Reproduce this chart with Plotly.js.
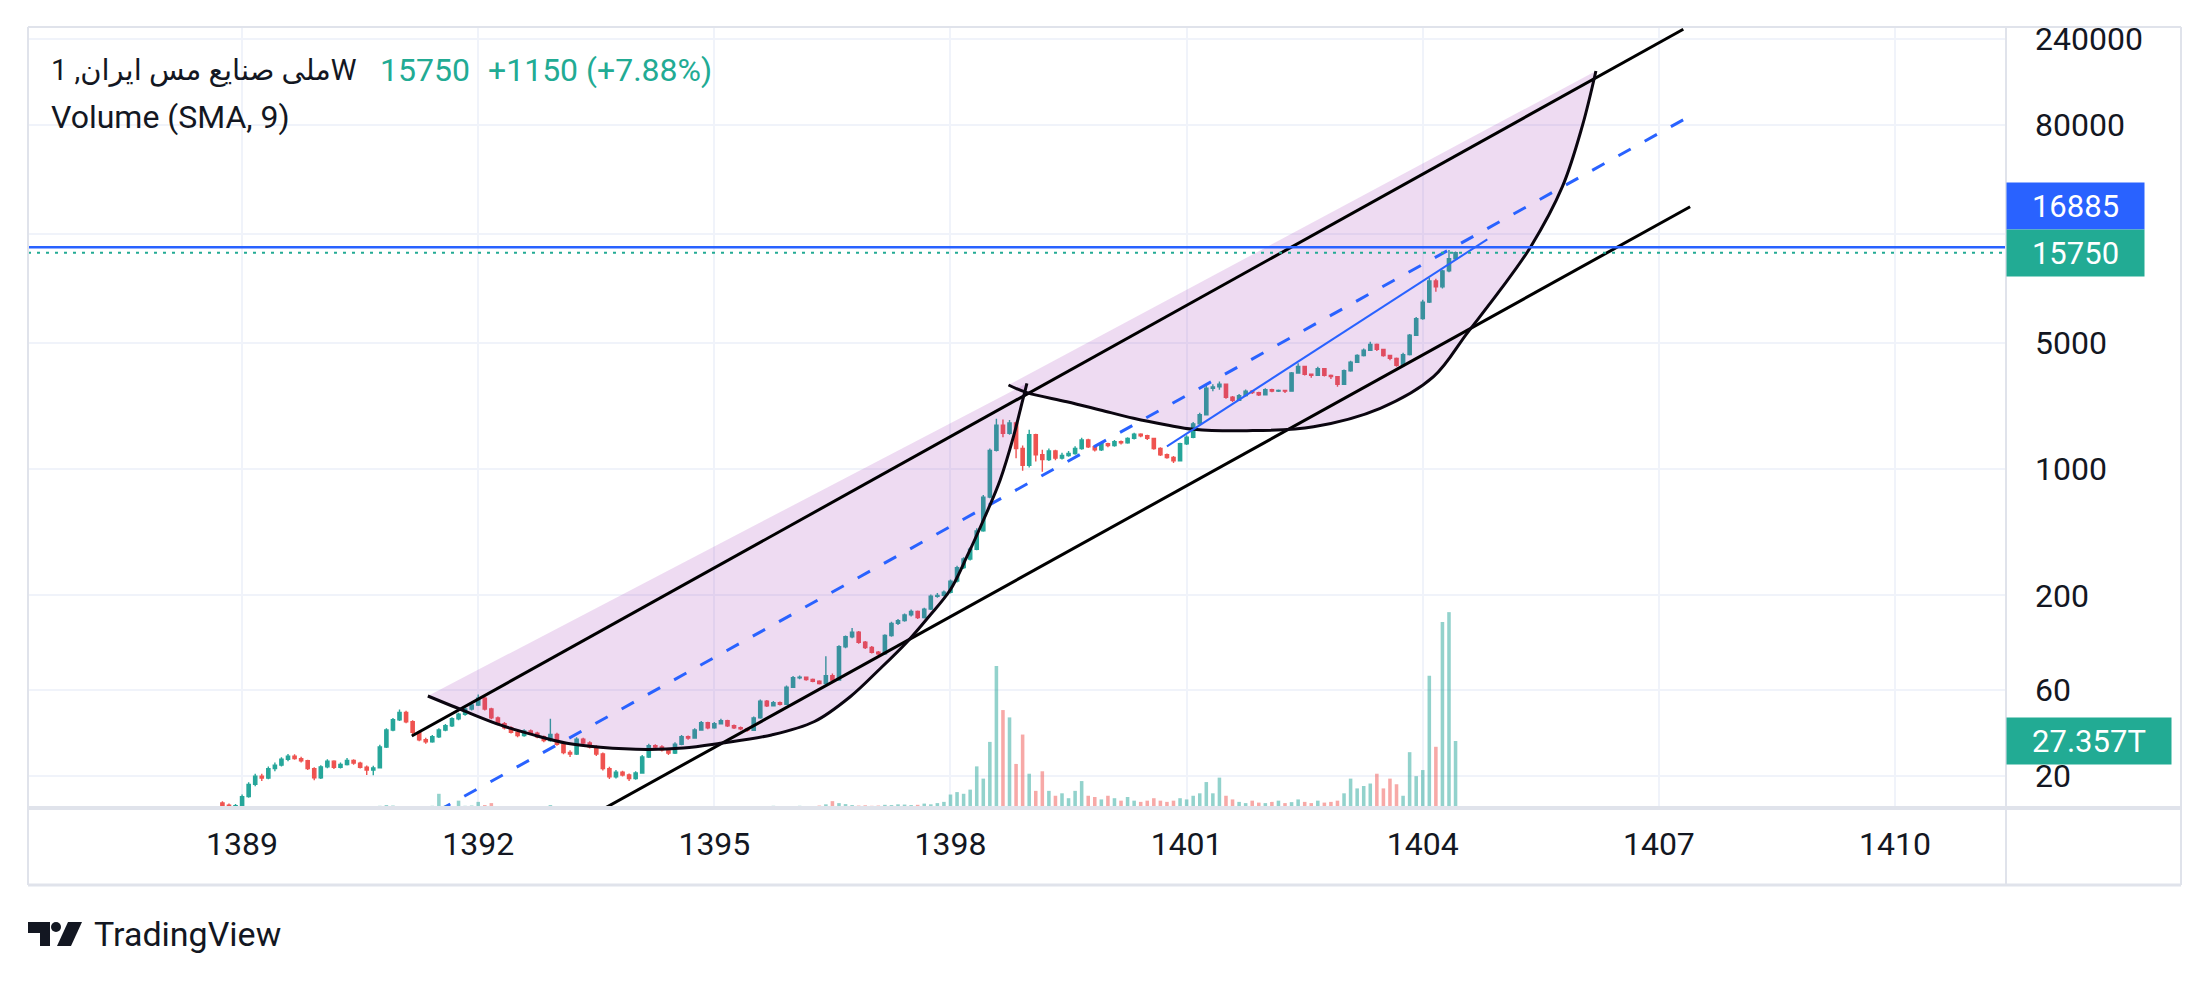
<!DOCTYPE html>
<html>
<head>
<meta charset="utf-8">
<script src="https://cdn.plot.ly/plotly-3.0.1.min.js"></script>
<style>
html,body{margin:0;padding:0;background:#ffffff;}
#chart{width:2209px;height:982px;}
</style>
</head>
<body>
<div id="chart"></div>
<script>
// ---------------- DATA ----------------
const symbolName = "ملی صنایع مس ایران";
const intervalLabel = "1W";
const volumeLabel = "Volume (SMA, 9)";
const brandLabel = "TradingView";

const tickYears = [1389, 1392, 1395, 1398, 1401, 1404, 1407, 1410];
const tickYearLabels = ["1389", "1392", "1395", "1398", "1401", "1404", "1407", "1410"];
const priceTicks = [20, 60, 200, 1000, 5000, 20000, 80000, 240000];
// the 20000 label sits under the price labels in the reference, so it is left blank
const priceTickLabels = ["20", "60", "200", "1000", "5000", "", "80000", "240000"];

const firstBarYear = 1388.75;
const barsPerYear = 12;

const openP = [
14.2,13.8,13.5,13.7,15.4,18.0,20.0,19.5,22.0,23.0,24.8,25.8,
25.0,24.3,22.0,19.6,22.5,24.2,22.4,23.2,24.4,23.6,22.4,21.6,
22.2,29.0,36.0,41.0,45.0,40.0,35.0,31.8,31.0,33.0,36.0,38.0,
41.5,44.0,47.0,49.5,54.0,47.0,42.0,39.0,37.0,35.0,33.5,35.5,
34.5,33.0,31.5,34.0,30.0,27.0,26.5,32.0,30.5,29.0,26.5,22.0,
19.8,21.0,20.3,19.4,20.8,25.5,29.5,29.0,28.0,26.8,30.0,33.0,
32.5,36.0,39.5,37.0,39.0,40.5,38.0,37.0,36.5,35.8,42.0,52.0,
49.0,51.0,50.0,62.0,70.0,70.5,68.5,67.0,65.0,72.0,68.0,104,
118,125,110,103,97,95,120,140,145,156,163,151,
168,198,200,208,240,285,318,360,455,700,1270,1750,
1580,1800,1300,1050,1550,1200,1130,1260,1150,1190,1220,1300,
1450,1330,1280,1380,1350,1420,1400,1480,1560,1530,1480,1300,
1200,1160,1110,1380,1500,1780,2000,2800,2850,2950,2500,2400,
2550,2700,2650,2580,2750,2700,2720,2700,3400,3700,3350,3300,
3600,3300,3250,2950,3500,3900,4250,4550,4900,4600,4250,4100,
3750,4300,5500,6800,8400,11000,10200,12500,14600
];
const highP = [
14.5,14.1,14.0,15.8,18.5,20.6,20.6,22.6,23.8,25.4,26.5,26.4,
25.6,24.6,22.4,23.0,24.8,24.5,23.8,25.2,24.8,24.0,22.9,22.8,
29.8,36.8,42.0,46.8,46.0,40.8,35.6,32.6,33.8,36.8,38.9,42.3,
44.9,47.8,50.4,56.5,55.0,47.8,42.8,39.8,37.8,35.6,36.3,36.2,
35.2,33.6,41.5,34.8,30.6,27.8,32.8,32.6,31.2,29.6,27.0,22.5,
21.6,21.4,20.7,21.3,26.2,30.2,30.0,29.6,28.5,30.8,33.8,33.6,
36.8,40.4,40.0,39.8,41.6,41.0,38.6,37.6,37.0,42.8,53.0,52.8,
52.0,51.8,63.5,71.5,72.0,71.2,69.3,67.8,92.0,74.0,106,120,
132,127,112,105,98.5,122,143,148,159,167,165,171,
202,206,213,245,292,325,370,470,720,1300,1900,1880,
1870,1830,1350,1650,1570,1280,1300,1280,1230,1260,1340,1490,
1470,1360,1410,1400,1450,1440,1500,1590,1580,1550,1490,1320,
1220,1180,1400,1540,1820,2050,2900,2950,3050,2980,2540,2600,
2760,2740,2680,2800,2780,2760,2740,3450,3850,3720,3380,3680,
3620,3340,3280,3560,3980,4320,4650,5070,4950,4640,4300,4150,
4400,5600,6950,8650,11400,11300,12700,16300,16000
];
const lowP = [
13.5,13.3,13.3,13.6,15.2,17.6,18.8,19.2,21.3,22.6,24.2,24.6,
23.8,21.6,19.0,19.3,22.1,21.9,22.0,22.9,23.1,22.0,20.3,20.2,
22.0,28.6,35.4,40.4,39.2,34.2,31.2,30.2,30.6,32.5,35.4,37.4,
40.8,43.2,46.2,48.8,46.2,41.3,38.2,36.2,34.4,32.8,33.0,33.8,
32.4,30.8,31.0,29.4,26.4,25.5,26.2,29.8,28.4,25.8,21.5,19.3,
19.4,19.9,18.8,19.1,20.6,25.2,28.4,27.4,26.2,26.5,29.6,31.8,
32.2,35.6,36.3,36.6,38.6,37.4,36.4,35.9,35.2,35.5,41.6,48.2,
48.5,49.2,49.6,61.4,68.6,67.4,66.2,64.2,64.3,66.5,67.5,102,
116,108,101,95.5,93,94,118,137,143,153,148,149,
166,194,197,205,236,280,312,355,450,690,1250,1500,
1550,1150,980,1020,1100,967,1110,1120,1130,1170,1200,1280,
1310,1250,1260,1320,1330,1370,1380,1460,1500,1450,1280,1180,
1140,1080,1100,1360,1480,1750,1980,2700,2750,2450,2350,2380,
2520,2600,2540,2560,2660,2670,2640,2680,3380,3300,3200,3280,
3250,3150,2860,2920,3460,3860,4200,4500,4500,4180,4000,3690,
3720,4250,5450,6700,8300,9590,10000,12300,14400
];
const closeP = [
13.8,13.5,13.7,15.4,18.0,20.0,19.5,22.0,23.0,24.8,25.8,25.0,
24.3,22.0,19.6,22.5,24.2,22.4,23.2,24.4,23.6,22.4,21.6,22.2,
29.0,36.0,41.0,45.0,40.0,35.0,31.8,31.0,33.0,36.0,38.0,41.5,
44.0,47.0,49.5,54.0,47.0,42.0,39.0,37.0,35.0,33.5,35.5,34.5,
33.0,31.5,34.0,30.0,27.0,26.5,32.0,30.5,29.0,26.5,22.0,19.8,
21.0,20.3,19.4,20.8,25.5,29.5,29.0,28.0,26.8,30.0,33.0,32.5,
36.0,39.5,37.0,39.0,40.5,38.0,37.0,36.5,35.8,42.0,52.0,49.0,
51.0,50.0,62.0,70.0,70.5,68.5,67.0,65.0,72.0,68.0,104,118,
125,110,103,97,95,120,140,145,156,163,151,168,
198,200,208,240,285,318,360,455,700,1270,1750,1580,
1800,1300,1050,1550,1200,1130,1260,1150,1190,1220,1300,1450,
1330,1280,1380,1350,1420,1400,1480,1560,1530,1480,1300,1200,
1160,1110,1380,1500,1780,2000,2800,2850,2950,2500,2400,2550,
2700,2650,2580,2750,2700,2720,2700,3400,3700,3350,3300,3600,
3300,3250,2950,3500,3900,4250,4550,4900,4600,4250,4100,3750,
4300,5500,6800,8400,11000,10200,12500,14600,15750
];
// volume in trillions (T)
const volumeT = [
0.8,0.6,0.9,0.7,0.5,0.6,0.5,0.4,0.6,0.5,0.7,0.5,
0.6,0.4,0.5,0.6,0.5,0.4,0.5,0.6,0.4,0.5,0.6,0.7,
0.9,1.2,1.0,0.8,0.7,0.6,0.8,0.7,0.9,5.8,1.0,0.8,
3.0,0.9,1.0,2.5,1.2,2.0,0.8,0.7,0.6,0.5,0.6,0.5,
0.7,0.6,1.2,0.8,0.5,0.6,0.7,0.5,0.6,0.5,0.4,0.5,
0.6,0.5,0.5,0.4,0.6,0.7,0.6,0.5,0.6,0.5,0.7,0.6,
0.5,0.6,0.8,0.7,0.6,0.5,0.6,0.7,0.6,0.5,0.6,0.7,
0.9,0.8,0.7,0.6,0.9,0.8,0.7,1.0,1.5,2.8,2.0,1.6,
1.2,1.0,1.1,0.9,1.0,1.3,1.2,1.5,1.4,1.2,1.3,1.8,
1.5,2.0,2.5,5.5,6.5,5.8,7.5,17,12,27,58,40,
37,18,30,14,7,15,7,5,6,4,7,11,
5,4.5,3.5,5,4,3,4.5,3,2.5,3,4,3,
2.5,3,4,3.5,5,6,10.6,6,12.4,5,3.5,2.5,
2,3,2.2,2,2.5,3,2,2.4,3.5,2.5,2,3,
2.2,2.5,3,6,12,8,9,10,14,8,12,9.7,
5,22.8,13,15.5,54,25,76,80,27.357
];

// drawings (anchor points: year, price)
const channelUpperX = [1391.156, 1407.31];
const channelUpperY = [33.34, 271600];
const channelMidX = [1391.156, 1407.397];
const channelMidY = [10.67, 89970];
const channelLowerX = [1393.0, 1407.397];
const channelLowerY = [9.48, 28320];
const trendX = [1400.75, 1404.82];
const trendY = [1335, 18690];
const arc1X = [1391.360,1391.855,1392.278,1392.701,1393.126,1393.549,1394.142,1394.607,1395.074,1395.727,1396.272,1396.726,1397.089,1397.451,1397.724,1397.996,1398.208,1398.419,1398.631,1398.800,1398.907,1398.971];
const arc1Y = [55.5,45.3,38.4,33.8,30.4,28.9,28.1,28.6,30.4,33.8,40.1,55.0,77.3,110.9,152.5,214.2,327.5,522.8,870.4,1511,2313,2985];
const arc2X = [1398.737,1398.971,1399.479,1399.902,1400.325,1400.750,1401.088,1401.766,1402.612,1403.460,1404.137,1404.562,1404.985,1405.372,1405.774,1406.025,1406.200];
const arc2Y = [2920,2648,2360,2124,1910,1754,1661,1631,1717,2170,3246,5642,9800,17010,36540,78520,159700];
const hLinePrice = 16885;

// ---------------- STYLE / GEOMETRY ----------------
const FONT = "Roboto, 'DejaVu Sans', sans-serif";
const TXT = '#131722';
const UP = '#26a69a', DOWN = '#ef5350';
const UPV = 'rgba(38,166,154,0.5)', DOWNV = 'rgba(239,83,80,0.5)';
const BLUE = '#2962ff', TEAL = '#22ab94';
const GRID = '#f0f3fa', FRAME = '#e0e3eb';
const xRange = [1386.28, 1411.41];
const yRange = [1.1245, 5.4466];

const L = 28, T = 27, W = 1978, H = 781;
const px = x => (x - L) / W;
const py = y => (T + H - y) / H;
const P = (x, y) => px(x) + ',' + py(y);

const barYear = closeP.map((_, i) => firstBarYear + i / barsPerYear);
const volColors = closeP.map((c, i) => c >= openP[i] ? UPV : DOWNV);
const lastClose = closeP[closeP.length - 1];
const prevClose = closeP[closeP.length - 2];
const chg = lastClose - prevClose;
const chgPct = (chg / prevClose * 100).toFixed(2);

const traces = [
  { type: 'bar', x: barYear, y: volumeT, yaxis: 'y2', marker: { color: volColors, line: { width: 0 } }, width: 0.045, hoverinfo: 'skip' },
  { type: 'scatter', mode: 'lines', x: arc1X, y: arc1Y, fill: 'toself', fillcolor: 'rgba(156,39,176,0.17)', line: { width: 0, shape: 'spline', smoothing: 1 }, hoverinfo: 'skip' },
  { type: 'scatter', mode: 'lines', x: arc2X, y: arc2Y, fill: 'toself', fillcolor: 'rgba(156,39,176,0.17)', line: { width: 0, shape: 'spline', smoothing: 1 }, hoverinfo: 'skip' },
  { type: 'candlestick', x: barYear, open: openP, high: highP, low: lowP, close: closeP,
    increasing: { line: { color: UP, width: 1.4 }, fillcolor: UP },
    decreasing: { line: { color: DOWN, width: 1.4 }, fillcolor: DOWN },
    whiskerwidth: 0, hoverinfo: 'skip' },
  { type: 'scatter', mode: 'lines', x: channelUpperX, y: channelUpperY, line: { color: '#000000', width: 3 }, hoverinfo: 'skip' },
  { type: 'scatter', mode: 'lines', x: channelLowerX, y: channelLowerY, line: { color: '#000000', width: 3 }, hoverinfo: 'skip' },
  { type: 'scatter', mode: 'lines', x: channelMidX, y: channelMidY, line: { color: BLUE, width: 3, dash: '14px,16px' }, hoverinfo: 'skip' },
  { type: 'scatter', mode: 'lines', x: arc1X, y: arc1Y, line: { color: '#0b0610', width: 3, shape: 'spline', smoothing: 1 }, hoverinfo: 'skip' },
  { type: 'scatter', mode: 'lines', x: arc2X, y: arc2Y, line: { color: '#0b0610', width: 3, shape: 'spline', smoothing: 1 }, hoverinfo: 'skip' },
  { type: 'scatter', mode: 'lines', x: trendX, y: trendY, line: { color: BLUE, width: 2 }, hoverinfo: 'skip' },
  { type: 'scatter', mode: 'lines', x: xRange, y: [hLinePrice, hLinePrice], line: { color: BLUE, width: 2.5 }, hoverinfo: 'skip' },
  { type: 'scatter', mode: 'lines', x: xRange, y: [lastClose, lastClose], line: { color: TEAL, width: 2, dash: '3px,6px' }, hoverinfo: 'skip' }
];

const frameLine = (x0, y0, x1, y1, w) => ({ type: 'line', xref: 'paper', yref: 'paper', x0: px(x0), y0: py(y0), x1: px(x1), y1: py(y1), line: { color: FRAME, width: w || 2 }, layer: 'above' });

const shapes = [
  frameLine(28, 27, 2181, 27),
  frameLine(28, 27, 28, 885),
  frameLine(2181, 27, 2181, 885),
  frameLine(2006, 27, 2006, 885),
  frameLine(28, 808, 2181, 808, 4),
  frameLine(28, 885, 2181, 885, 3),
  // TradingView logo mark
  { type: 'path', xref: 'paper', yref: 'paper', path: 'M' + P(28, 922) + ' L' + P(50, 922) + ' L' + P(50, 946) + ' L' + P(40, 946) + ' L' + P(40, 933) + ' L' + P(28, 933) + ' Z', fillcolor: TXT, line: { width: 0 } },
  { type: 'circle', xref: 'paper', yref: 'paper', x0: px(51), x1: px(61), y0: py(922), y1: py(932), fillcolor: TXT, line: { width: 0 } },
  { type: 'path', xref: 'paper', yref: 'paper', path: 'M' + P(68, 922) + ' L' + P(82, 922) + ' L' + P(71, 946) + ' L' + P(57, 946) + ' Z', fillcolor: TXT, line: { width: 0 } }
];

const boxLabel = (text, yref, y, color, w) => ({
  xref: 'paper', x: 1, xanchor: 'left', yref: yref, y: y, yanchor: 'middle',
  text: text, showarrow: false, bgcolor: color, borderpad: 3, width: w, height: 40, align: 'center',
  font: { family: FONT, size: 31, color: '#ffffff' }
});

const annotations = [
  { xref: 'paper', yref: 'paper', x: px(49), y: py(70), xanchor: 'left', yanchor: 'middle', showarrow: false,
    text: '\u202B' + symbolName + ', ' + intervalLabel.slice(0, 1) + '\u202C' + intervalLabel.slice(1),
    font: { family: FONT, size: 29, color: TXT } },
  { xref: 'paper', yref: 'paper', x: px(378), y: py(70), xanchor: 'left', yanchor: 'middle', showarrow: false,
    text: String(lastClose), font: { family: FONT, size: 32, color: TEAL } },
  { xref: 'paper', yref: 'paper', x: px(486), y: py(70), xanchor: 'left', yanchor: 'middle', showarrow: false,
    text: (chg >= 0 ? '+' : '') + chg + ' (' + (chg >= 0 ? '+' : '') + chgPct + '%)', font: { family: FONT, size: 32, color: TEAL } },
  { xref: 'paper', yref: 'paper', x: px(49), y: py(117), xanchor: 'left', yanchor: 'middle', showarrow: false,
    text: volumeLabel, font: { family: FONT, size: 32, color: TXT } },
  { xref: 'paper', yref: 'paper', x: px(92), y: py(934), xanchor: 'left', yanchor: 'middle', showarrow: false,
    text: brandLabel, font: { family: FONT, size: 34, color: TXT } },
  boxLabel(String(hLinePrice), 'paper', py(206.5), BLUE, 131),
  boxLabel(String(lastClose), 'y', Math.log10(lastClose), TEAL, 131),
  boxLabel(volumeT[volumeT.length - 1].toFixed(3) + 'T', 'y2', volumeT[volumeT.length - 1], TEAL, 158)
];

const layout = {
  width: 2209, height: 982,
  margin: { l: L, r: 2209 - L - W, t: T, b: 982 - T - H, pad: 0 },
  paper_bgcolor: '#ffffff', plot_bgcolor: '#ffffff',
  showlegend: false, hovermode: false, dragmode: false,
  xaxis: {
    range: xRange, tickvals: tickYears, ticktext: tickYearLabels,
    showgrid: true, gridcolor: GRID, gridwidth: 2, zeroline: false, showline: false,
    ticks: '', tickfont: { family: FONT, size: 32, color: TXT }, ticklabelstandoff: 14,
    rangeslider: { visible: false }, fixedrange: true
  },
  yaxis: {
    type: 'log', range: yRange, side: 'right', tickvals: priceTicks, ticktext: priceTickLabels,
    showgrid: true, gridcolor: GRID, gridwidth: 2, zeroline: false, showline: false,
    ticks: '', tickfont: { family: FONT, size: 32, color: TXT }, ticklabelstandoff: 28, fixedrange: true
  },
  yaxis2: { overlaying: 'y', range: [0, 319], visible: false, fixedrange: true },
  shapes: shapes,
  annotations: annotations
};

Plotly.newPlot('chart', traces, layout, { displayModeBar: false, staticPlot: true });
</script>
</body>
</html>
